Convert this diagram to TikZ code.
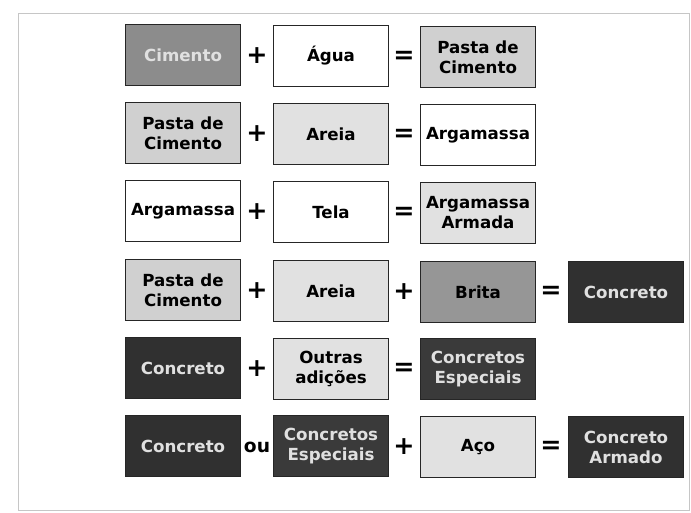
\documentclass[tikz,border=0pt]{standalone}
\usepackage{fontspec}
\setmainfont{DejaVu Sans}

\definecolor{cimento}{RGB}{140,140,140}
\definecolor{brita}{RGB}{150,150,150}
\definecolor{pasta}{RGB}{208,208,208}
\definecolor{areia}{RGB}{225,225,225}
\definecolor{concreto}{RGB}{48,48,48}
\definecolor{escuro}{RGB}{58,58,58}

\begin{document}
\begin{tikzpicture}[x=0.75pt, y=-0.75pt,
  box/.style={draw=black!85, line width=1.1pt, minimum width=86pt,
    minimum height=45.5pt, inner sep=1pt, align=center,
    font=\fontsize{12.5}{15}\selectfont\bfseries},
  op/.style={font=\fontsize{19}{19}\selectfont\bfseries}]

  \useasboundingbox (0,0) rectangle (691,512);

  % Frame
  \draw[gray!45, line width=0.6pt] (18,13) rectangle (689,510);

  %%%%%%%%%%%%%%%%%%%%%%%%%%%%%%%%%%%%%%%%%%%%%%%%%
  % Row 1
  \node[box, fill=cimento, text=white!88!black] (cim1) at (183,55) {Cimento};
  \node[op] (plus1) at (257,56) {+};
  \node[box, fill=white] (agua) at (331,56) {Água};
  \node[op] (eq1) at (404,57) {=};
  \node[box, fill=pasta] (pasta1) at (478,57) {Pasta de\\Cimento};

  %%%%%%%%%%%%%%%%%%%%%%%%%%%%%%%%%%%%%%%%%%%%%%%%%
  % Row 2
  \node[box, fill=pasta] (pasta2) at (183,133) {Pasta de\\Cimento};
  \node[op] (plus2) at (257,134) {+};
  \node[box, fill=areia] (areia2) at (331,134) {Areia};
  \node[op] (eq2) at (404,135) {=};
  \node[box, fill=white] (arg2) at (478,135) {Argamassa};

  %%%%%%%%%%%%%%%%%%%%%%%%%%%%%%%%%%%%%%%%%%%%%%%%%
  % Row 3
  \node[box, fill=white] (arg3) at (183,211) {Argamassa};
  \node[op] (plus3) at (257,212) {+};
  \node[box, fill=white] (tela) at (331,212) {Tela};
  \node[op] (eq3) at (404,213) {=};
  \node[box, fill=areia] (argarm) at (478,213) {Argamassa\\Armada};

  %%%%%%%%%%%%%%%%%%%%%%%%%%%%%%%%%%%%%%%%%%%%%%%%%
  % Row 4
  \node[box, fill=pasta] (pasta4) at (183,290) {Pasta de\\Cimento};
  \node[op] (plus4) at (257,291) {+};
  \node[box, fill=areia] (areia4) at (331,291) {Areia};
  \node[op] (plus4b) at (404,292) {+};
  \node[box, fill=brita] (brita) at (478,292) {Brita};
  \node[op] (eq4) at (551,292) {=};
  \node[box, fill=concreto, text=white!88!black] (conc4) at (626,292) {Concreto};

  %%%%%%%%%%%%%%%%%%%%%%%%%%%%%%%%%%%%%%%%%%%%%%%%%
  % Row 5
  \node[box, fill=concreto, text=white!88!black] (conc5) at (183,368) {Concreto};
  \node[op] (plus5) at (257,369) {+};
  \node[box, fill=areia] (outras) at (331,369) {Outras\\adições};
  \node[op] (eq5) at (404,369) {=};
  \node[box, fill=escuro, text=white!88!black] (esp5) at (478,369) {Concretos\\Especiais};

  %%%%%%%%%%%%%%%%%%%%%%%%%%%%%%%%%%%%%%%%%%%%%%%%%
  % Row 6
  \node[box, fill=concreto, text=white!88!black] (conc6) at (183,446) {Concreto};
  \node[op, font=\fontsize{14}{14}\selectfont\bfseries] (ou) at (257,447) {ou};
  \node[box, fill=escuro, text=white!88!black] (esp6) at (331,446) {Concretos\\Especiais};
  \node[op] (plus6) at (404,447) {+};
  \node[box, fill=areia] (aco) at (478,447) {Aço};
  \node[op] (eq6) at (551,447) {=};
  \node[box, fill=concreto, text=white!88!black] (armado) at (626,447) {Concreto\\Armado};

\end{tikzpicture}
\end{document}
